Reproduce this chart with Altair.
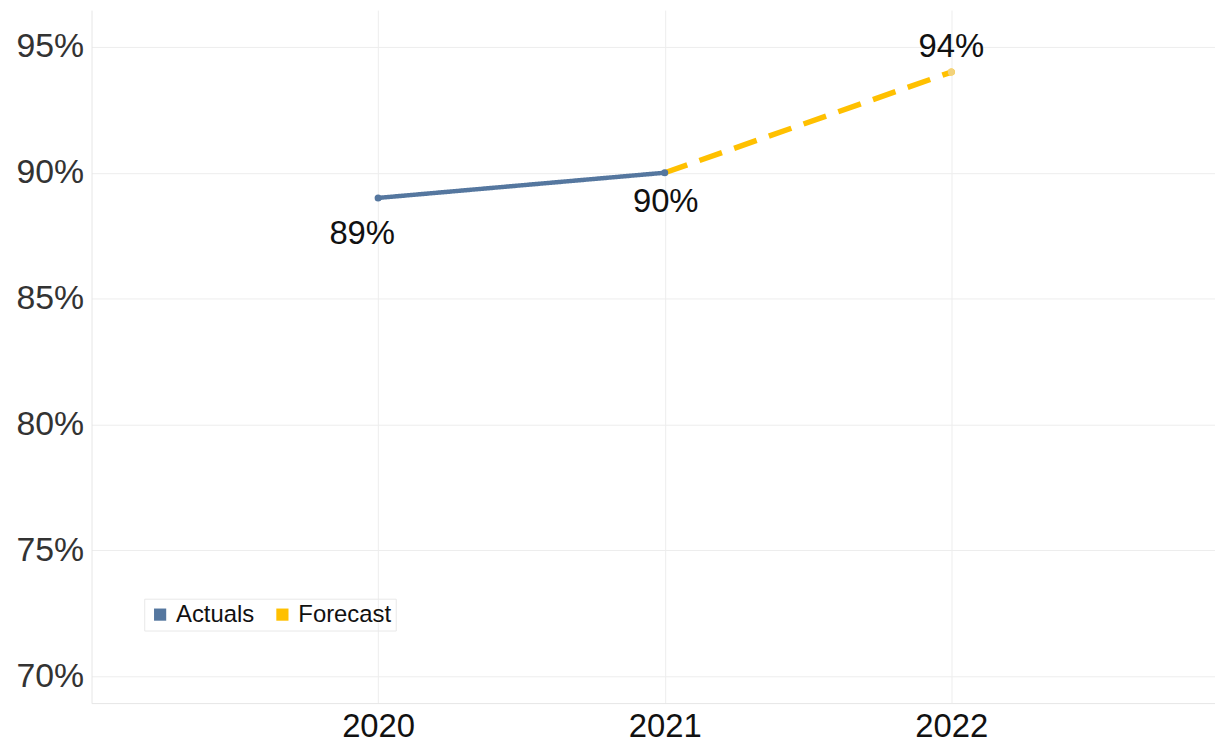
import altair as alt
import pandas as pd

series = ["Actuals", "Actuals", "Forecast", "Forecast"]
years = [2020, 2021, 2021, 2022]
values = [89, 90, 90, 94]

label_years = [2020, 2021, 2022]
label_values = [89, 90, 94]
label_text = ["89%", "90%", "94%"]

df = pd.DataFrame({"series": series, "year": years, "value": values})
pts = pd.DataFrame({"series": ["Actuals", "Actuals", "Forecast"], "year": label_years, "value": label_values})
lab = pd.DataFrame({"year": label_years, "value": label_values, "text": label_text})

color_scale = alt.Scale(domain=["Actuals", "Forecast"], range=["#55779f", "#ffc000"])
xs = alt.Scale(domain=[2019, 2022.92], nice=False, zero=False)
ys = alt.Scale(domain=[68.93, 96.46], nice=False, zero=False)

x = alt.X("year:Q", scale=xs, title=None,
          axis=alt.Axis(values=[2020, 2021, 2022], format="d", labelFontSize=33,
                        labelFont="Liberation Sans", labelColor="#111",
                        labelPadding=8, ticks=False, domain=True, domainColor="#e6e6e6",
                        gridColor="#ededed", grid=True))
y = alt.Y("value:Q", scale=ys, title=None,
          axis=alt.Axis(values=[70, 75, 80, 85, 90, 95], labelExpr="datum.value + '%'",
                        labelFontSize=34, labelFont="Liberation Sans", labelColor="#333",
                        labelPadding=8, ticks=False, domain=True, domainColor="#e6e6e6",
                        gridColor="#ededed", minExtent=84, maxExtent=84))

lines = alt.Chart(df).mark_line().encode(
    x=x, y=y,
    color=alt.Color("series:N", scale=color_scale, legend=None),
    strokeDash=alt.StrokeDash("series:N", scale=alt.Scale(domain=["Actuals", "Forecast"], range=[[1, 0], [24, 13]]), legend=None),
    strokeWidth=alt.StrokeWidth("series:N", scale=alt.Scale(domain=["Actuals", "Forecast"], range=[4.5, 5.5]), legend=None),
)

points = alt.Chart(pts).mark_point(filled=True, size=50, opacity=1).encode(
    x=x, y=y,
    color=alt.Color("series:N", scale=color_scale,
                    legend=alt.Legend(title=None, orient="none", legendX=53, legendY=592,
                                      direction="horizontal", symbolType="square", symbolSize=150,
                                      labelFontSize=24, labelFont="Liberation Sans", labelColor="#111",
                                      strokeColor="#e8e8e8", padding=4, columnPadding=16,
                                      symbolOpacity=1)),
)

pale = alt.Chart(pts).transform_filter("datum.series == 'Forecast'").mark_point(
    filled=True, size=50, opacity=1, color="#f2d27c").encode(x=x, y=y)

t89 = alt.Chart(lab).transform_filter("datum.year == 2020").mark_text(
    fontSize=33, font="Liberation Sans", color="#111", dy=36, dx=-16).encode(x=x, y=y, text="text:N")
t90 = alt.Chart(lab).transform_filter("datum.year == 2021").mark_text(
    fontSize=33, font="Liberation Sans", color="#111", dy=29, dx=1).encode(x=x, y=y, text="text:N")
t94 = alt.Chart(lab).transform_filter("datum.year == 2022").mark_text(
    fontSize=33, font="Liberation Sans", color="#111", dy=-25, dx=0).encode(x=x, y=y, text="text:N")

chart = alt.layer(lines, points, pale, t89, t90, t94).resolve_legend(color="independent").properties(
    width=1130, height=697, padding=0, background="white"
).configure_view(stroke=None)

chart.save("out.html", embed_options={"renderer": "svg", "actions": False})
